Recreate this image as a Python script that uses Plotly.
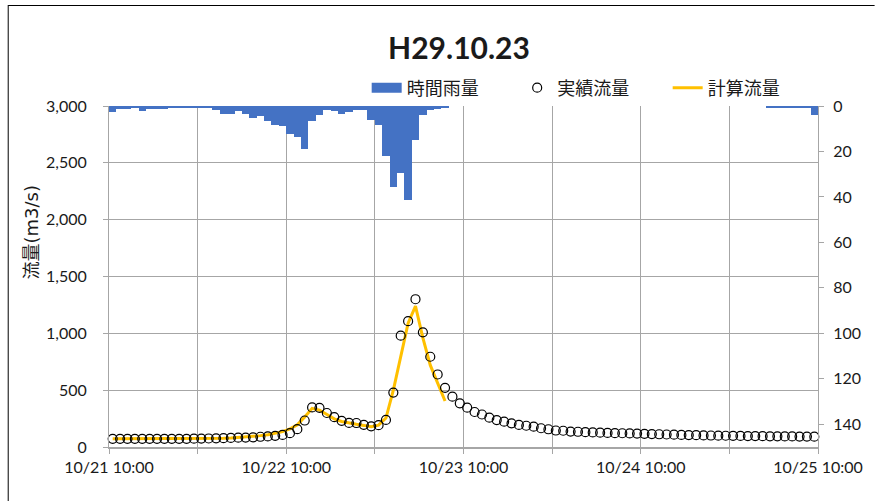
import plotly.graph_objects as go

# ---- data ----
tick_labels = ["10/21 10:00", "", "10/22 10:00", "", "10/23 10:00", "", "10/24 10:00", "", "10/25 10:00"]
tick_hours = [0, 12, 24, 36, 48, 60, 72, 84, 96]

# hourly rainfall (mm/h), one value per hour from 10/21 10:00
rain = [2.6, 1.2, 1.2, 1.0, 2.3, 1.2, 1.2, 1.2, 0.5, 0.7,
        0.7, 0.7, 0.7, 0.7, 1.8, 3.7, 3.7, 2.3, 3.4, 5.3,
        4.4, 6.6, 8.2, 8.8, 12.2, 13.6, 18.8, 6.7, 3.8, 1.9,
        2.3, 3.7, 2.6, 1.6, 1.9, 6.3, 8.2, 22.1, 35.6, 29.3,
        41.2, 15.1, 3.8, 1.9, 1.2, 0.9, 0, 0, 0, 0,
        0, 0, 0, 0, 0, 0, 0, 0, 0, 0,
        0, 0, 0, 0, 0, 0, 0, 0, 0, 0,
        0, 0, 0, 0, 0, 0, 0, 0, 0, 0,
        0, 0, 0, 0, 0, 0, 0, 0, 0, 0.5,
        0.5, 0.5, 1.0, 1.0, 1.0, 4.1]

# observed discharge (m3/s)
observed = [72, 72, 72, 72, 72, 72, 72, 72, 72, 72,
            72, 73, 74, 75, 76, 78, 80, 82, 83, 85,
            90, 93, 98, 106, 122, 157, 233, 348, 345, 299,
            262, 230, 212, 211, 195, 182, 192, 238, 479, 979,
            1107, 1300, 1009, 794, 638, 521, 443, 384, 346, 308,
            286, 258, 237, 223, 208, 194, 187, 179, 165, 156,
            145, 143, 136, 134, 130, 128, 126, 124, 122, 121,
            119, 118, 116, 114, 112, 110, 108, 106, 105, 104,
            102, 101, 100, 99, 98, 97, 96, 96, 95, 94,
            94, 93, 93, 92, 92, 91, 91]

# computed discharge (m3/s)
computed = [72, 72, 72, 72, 72, 72, 72, 72, 72, 72,
            73, 73, 74, 75, 76, 78, 80, 84, 88, 93,
            100, 108, 120, 135, 160, 195, 265, 340, 325, 285,
            248, 225, 210, 200, 190, 178, 192, 255, 500, 800,
            1090, 1240, 960, 720, 565, 405]

hours_rain = [k + 0.5 for k in range(len(rain))]
hours_obs = [k + 0.5 for k in range(len(observed))]
hours_calc = [k + 0.5 for k in range(len(computed))]

FONT = "Lato, 'Noto Sans CJK JP', sans-serif"
GRID = "#A6A6A6"
TXT = "#1a1a1a"
BLUE = "#4472C4"

fig = go.Figure()
fig.add_trace(go.Bar(
    x=hours_rain, y=rain, yaxis="y2", name="時間雨量", width=1,
    marker=dict(color=BLUE, line=dict(width=0)), showlegend=False))
# legend entry for rainfall drawn as a wide band like the original
fig.add_trace(go.Scatter(
    x=[None], y=[None], yaxis="y2", mode="lines", name="時間雨量",
    line=dict(color=BLUE, width=10), legendrank=1))
fig.add_trace(go.Scatter(
    x=hours_calc, y=computed, mode="lines", name="計算流量",
    line=dict(color="#FFC000", width=3), legendrank=3))
fig.add_trace(go.Scatter(
    x=hours_obs, y=observed, mode="markers", name="実績流量", cliponaxis=False,
    marker=dict(symbol="circle-open", size=9, color="#000000", line=dict(width=1.2)),
    legendrank=2))

# plot area in px: x 109..823, y 106..447
L, R, T, B = 109, 823, 106, 447
W, H = R - L, B - T


def px(x):
    return (x - L) / W


def py(y):
    return (B - y) / H


fig.update_layout(
    width=875, height=501,
    margin=dict(l=L, r=875 - R, t=T, b=501 - B),
    paper_bgcolor="white", plot_bgcolor="white",
    font=dict(family=FONT, size=16, color=TXT),
    bargap=0,
    title=dict(text="<b>H29.10.23</b>", font=dict(size=30, color=TXT, family=FONT),
               x=459 / 875, xanchor="center", xref="container",
               y=1 - 48 / 501, yanchor="middle", yref="container"),
    xaxis=dict(range=[0, 96], tickvals=tick_hours, ticktext=tick_labels,
               showgrid=True, gridcolor=GRID, gridwidth=1,
               showline=True, linecolor=GRID, linewidth=2,
               ticks="outside", ticklen=5, tickcolor=GRID, zeroline=False,
               tickfont=dict(size=16, color=TXT, family=FONT)),
    yaxis=dict(range=[0, 3000], dtick=500, tickformat=",",
               showgrid=True, gridcolor=GRID, gridwidth=1,
               showline=True, linecolor=GRID, linewidth=1,
               ticks="outside", ticklen=5, tickcolor=GRID, zeroline=False,
               tickfont=dict(size=16, color=TXT, family=FONT), ticklabelstandoff=13),
    yaxis2=dict(overlaying="y", side="right", range=[150, 0],
                tickvals=[0, 20, 40, 60, 80, 100, 120, 140],
                showgrid=False, showline=True, linecolor=GRID, linewidth=1,
                ticks="outside", ticklen=5, tickcolor=GRID, zeroline=False,
                tickfont=dict(size=16, color=TXT, family=FONT), ticklabelstandoff=6),
    legend=dict(orientation="h", x=px(368.5), xanchor="left", y=py(88), yanchor="middle",
                font=dict(size=18, color=TXT, family=FONT), bgcolor="rgba(0,0,0,0)",
                entrywidth=105.5, itemwidth=30),
    showlegend=True,
    annotations=[dict(text="流量(m3/s)", textangle=-90, xref="paper", yref="paper",
                      x=px(30), y=py(233), xanchor="center", yanchor="middle",
                      showarrow=False,
                      font=dict(size=18, color=TXT, family="'DejaVu Sans', 'Noto Sans CJK JP', sans-serif"))],
    shapes=[
        dict(type="line", xref="paper", yref="paper", x0=px(7.5), x1=px(7.5), y0=py(5), y1=py(505),
             line=dict(color="#000000", width=1)),
        dict(type="line", xref="paper", yref="paper", x0=px(7.5), x1=px(880), y0=py(5.5), y1=py(5.5),
             line=dict(color="#000000", width=1)),
    ],
)

fig.write_html("out.html", config={"displayModeBar": False},
               post_script="document.body.style.margin='0px';")
